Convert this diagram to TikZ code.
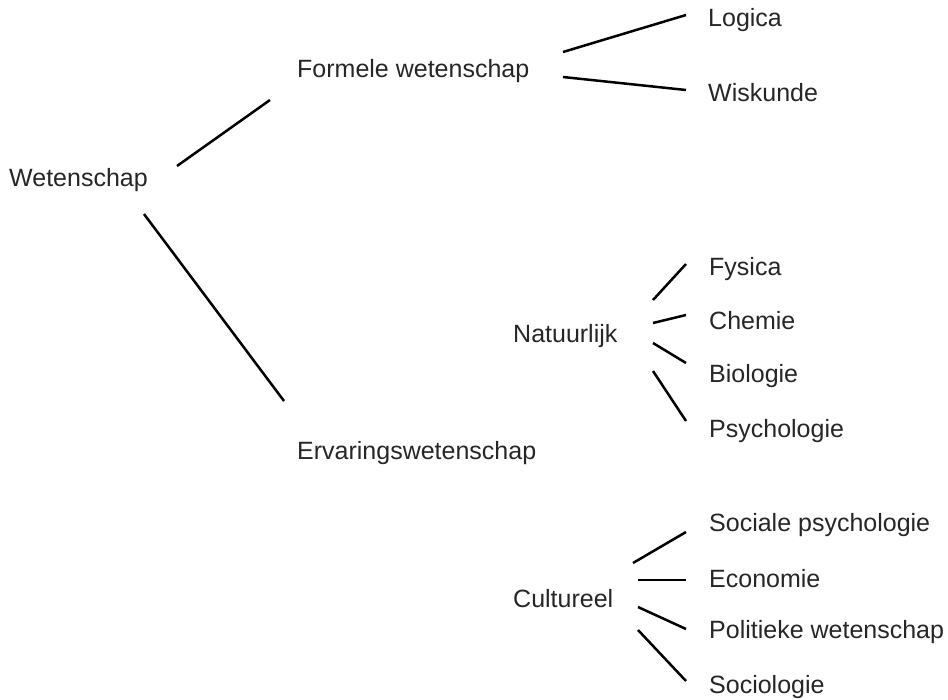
\documentclass[tikz,border=0pt]{standalone}
\usepackage{fontspec}
\setmainfont{Liberation Sans}
\usepackage{tikz}
\definecolor{textgray}{rgb}{0.15,0.15,0.15}

\tikzset{
    label/.style={anchor=base west, inner sep=0pt, text=textgray,
        font=\fontsize{25}{29}\selectfont},
    branch/.style={line width=2.5pt, black}
}

\begin{document}
\begin{tikzpicture}[x=1pt, y=-1pt]
    \useasboundingbox (0, 0) rectangle (948, 699);

    % Labels
    \node[label] (wet) at (9, 186) {Wetenschap};
    \node[label] (form) at (297, 77) {Formele wetenschap};
    \node[label] (erv) at (297, 459) {Ervaringswetenschap};
    \node[label] (log) at (708, 26) {Logica};
    \node[label] (wis) at (708, 101) {Wiskunde};
    \node[label] (nat) at (513, 342) {Natuurlijk};
    \node[label] (fys) at (709, 275) {Fysica};
    \node[label] (chem) at (709, 329) {Chemie};
    \node[label] (bio) at (709, 382) {Biologie};
    \node[label] (psy) at (709, 437) {Psychologie};
    \node[label] (cult) at (513, 607) {Cultureel};
    \node[label] (socps) at (709, 531) {Sociale psychologie};
    \node[label] (eco) at (709, 587) {Economie};
    \node[label] (pol) at (709, 638) {Politieke wetenschap};
    \node[label] (soc) at (709, 693) {Sociologie};

    % Line ends
    \coordinate (wet-form-a) at (177, 166);
    \coordinate (wet-form-b) at (270, 100);
    \coordinate (wet-erv-a) at (144, 214);
    \coordinate (wet-erv-b) at (284, 401);
    \coordinate (form-log-a) at (563, 52);
    \coordinate (form-log-b) at (686, 15);
    \coordinate (form-wis-a) at (563, 77);
    \coordinate (form-wis-b) at (686, 90);
    \coordinate (nat-fys-a) at (653, 300);
    \coordinate (nat-fys-b) at (686, 264);
    \coordinate (nat-chem-a) at (653, 323);
    \coordinate (nat-chem-b) at (686, 315);
    \coordinate (nat-bio-a) at (653, 343);
    \coordinate (nat-bio-b) at (686, 363);
    \coordinate (nat-psy-a) at (653, 371);
    \coordinate (nat-psy-b) at (686, 421);
    \coordinate (cult-socps-a) at (633, 563);
    \coordinate (cult-socps-b) at (686, 532);
    \coordinate (cult-eco-a) at (638, 580);
    \coordinate (cult-eco-b) at (686, 580);
    \coordinate (cult-pol-a) at (638, 607);
    \coordinate (cult-pol-b) at (686, 629);
    \coordinate (cult-soc-a) at (638, 630);
    \coordinate (cult-soc-b) at (686, 681);

    % Branches
    \foreach \e in {wet-form, wet-erv, form-log, form-wis,
                    nat-fys, nat-chem, nat-bio, nat-psy,
                    cult-socps, cult-eco, cult-pol, cult-soc} {
        \draw[branch] (\e-a) -- (\e-b);
    }
\end{tikzpicture}
\end{document}
